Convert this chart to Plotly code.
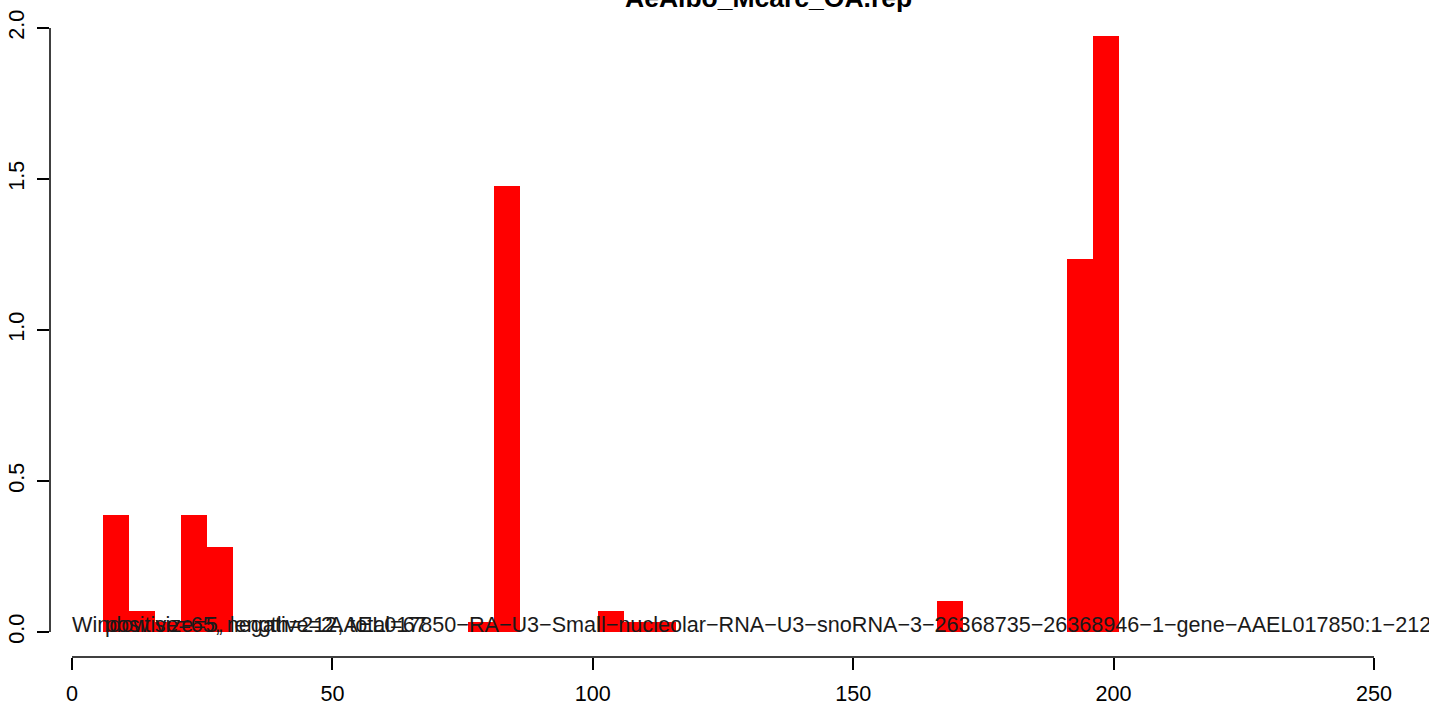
import plotly.graph_objects as go

# ---- data ----
bin_start = [6, 11, 16, 21, 26, 76, 81, 101, 106, 111, 166, 191, 196]
bin_width = 5
values = [0.386, 0.069, 0.034, 0.386, 0.281, 0.034, 1.478, 0.069, 0.034, 0.034, 0.104, 1.234, 1.975]

x_ticks = [0, 50, 100, 150, 200, 250]
y_ticks = [0.0, 0.5, 1.0, 1.5, 2.0]
y_ticklabels = ["0.0", "0.5", "1.0", "1.5", "2.0"]

title_text = "AeAlbo_Mcarc_OA.rep"
info_text = "Window size=5, length=212, total=67"
count_text = "positive=65, negative=2"
gene_text = "AAEL017850\u2212RA\u2212U3\u2212Small\u2212nucleolar\u2212RNA\u2212U3\u2212snoRNA\u22123\u221226368735\u221226368946\u22121\u2212gene\u2212AAEL017850:1\u2212212"

FONT = "Liberation Sans, Arial, Helvetica, sans-serif"

fig = go.Figure()
fig.add_trace(go.Bar(
    x=[s + bin_width / 2 for s in bin_start],
    y=values,
    width=[bin_width] * len(bin_start),
    marker=dict(color="#FF0000", line=dict(width=0)),
    hoverinfo="x+y",
))

fig.update_layout(
    width=1429, height=704,
    margin=dict(l=50, r=0, t=4, b=47, pad=0, autoexpand=False),
    paper_bgcolor="white", plot_bgcolor="white",
    showlegend=False,
    font=dict(family=FONT, color="black", size=21.6),
    xaxis=dict(
        range=[-4.224, 260.56], tickvals=x_ticks, ticks="outside", ticklen=12,
        tickwidth=1.5, tickcolor="black", showline=False, showgrid=False,
        zeroline=False, tickfont=dict(size=21.6, family=FONT, color="black"),
        ticklabelstandoff=5, automargin=False,
    ),
    yaxis=dict(
        range=[-0.0828, 2.0795], tickvals=y_ticks, ticktext=y_ticklabels,
        ticks="outside", ticklen=12, tickwidth=1.5, tickcolor="black",
        showline=False, showgrid=False, zeroline=False, tickangle=-90,
        tickfont=dict(size=21.6, family=FONT, color="black"),
        ticklabelstandoff=4, automargin=False,
    ),
    bargap=0,
)

# R-style axis lines spanning only the tick range
fig.add_shape(type="line", xref="x", yref="paper", x0=x_ticks[0], x1=x_ticks[-1], y0=0, y1=0,
              line=dict(color="black", width=1.5))
fig.add_shape(type="line", xref="paper", yref="y", x0=0, x1=0, y0=y_ticks[0], y1=y_ticks[-1],
              line=dict(color="black", width=1.5))

# title (partly cut at top as in the reference)
fig.add_annotation(text="<b>%s</b>" % title_text, xref="paper", yref="paper",
                   x=0.521, y=0.983, xanchor="center", yanchor="bottom", showarrow=False,
                   font=dict(size=26.5, family=FONT, color="black"))

# overlapping texts on the baseline
fig.add_annotation(text=info_text, xref="x", yref="y", x=-0.4, y=0.024,
                   xanchor="left", yanchor="middle", showarrow=False,
                   font=dict(size=21.6, family=FONT, color="#1a1a1a"))
fig.add_annotation(text=count_text, xref="x", yref="y", x=6, y=0.024,
                   xanchor="left", yanchor="middle", showarrow=False,
                   font=dict(size=21.6, family=FONT, color="#1a1a1a"))
fig.add_annotation(text=gene_text, xref="x", yref="y", x=48.9, y=0.024,
                   xanchor="left", yanchor="middle", showarrow=False,
                   font=dict(size=21.6, family=FONT, color="#1a1a1a"))

fig.write_html("out.html", config={"displayModeBar": False},
               post_script="document.body.style.margin='0px';")
